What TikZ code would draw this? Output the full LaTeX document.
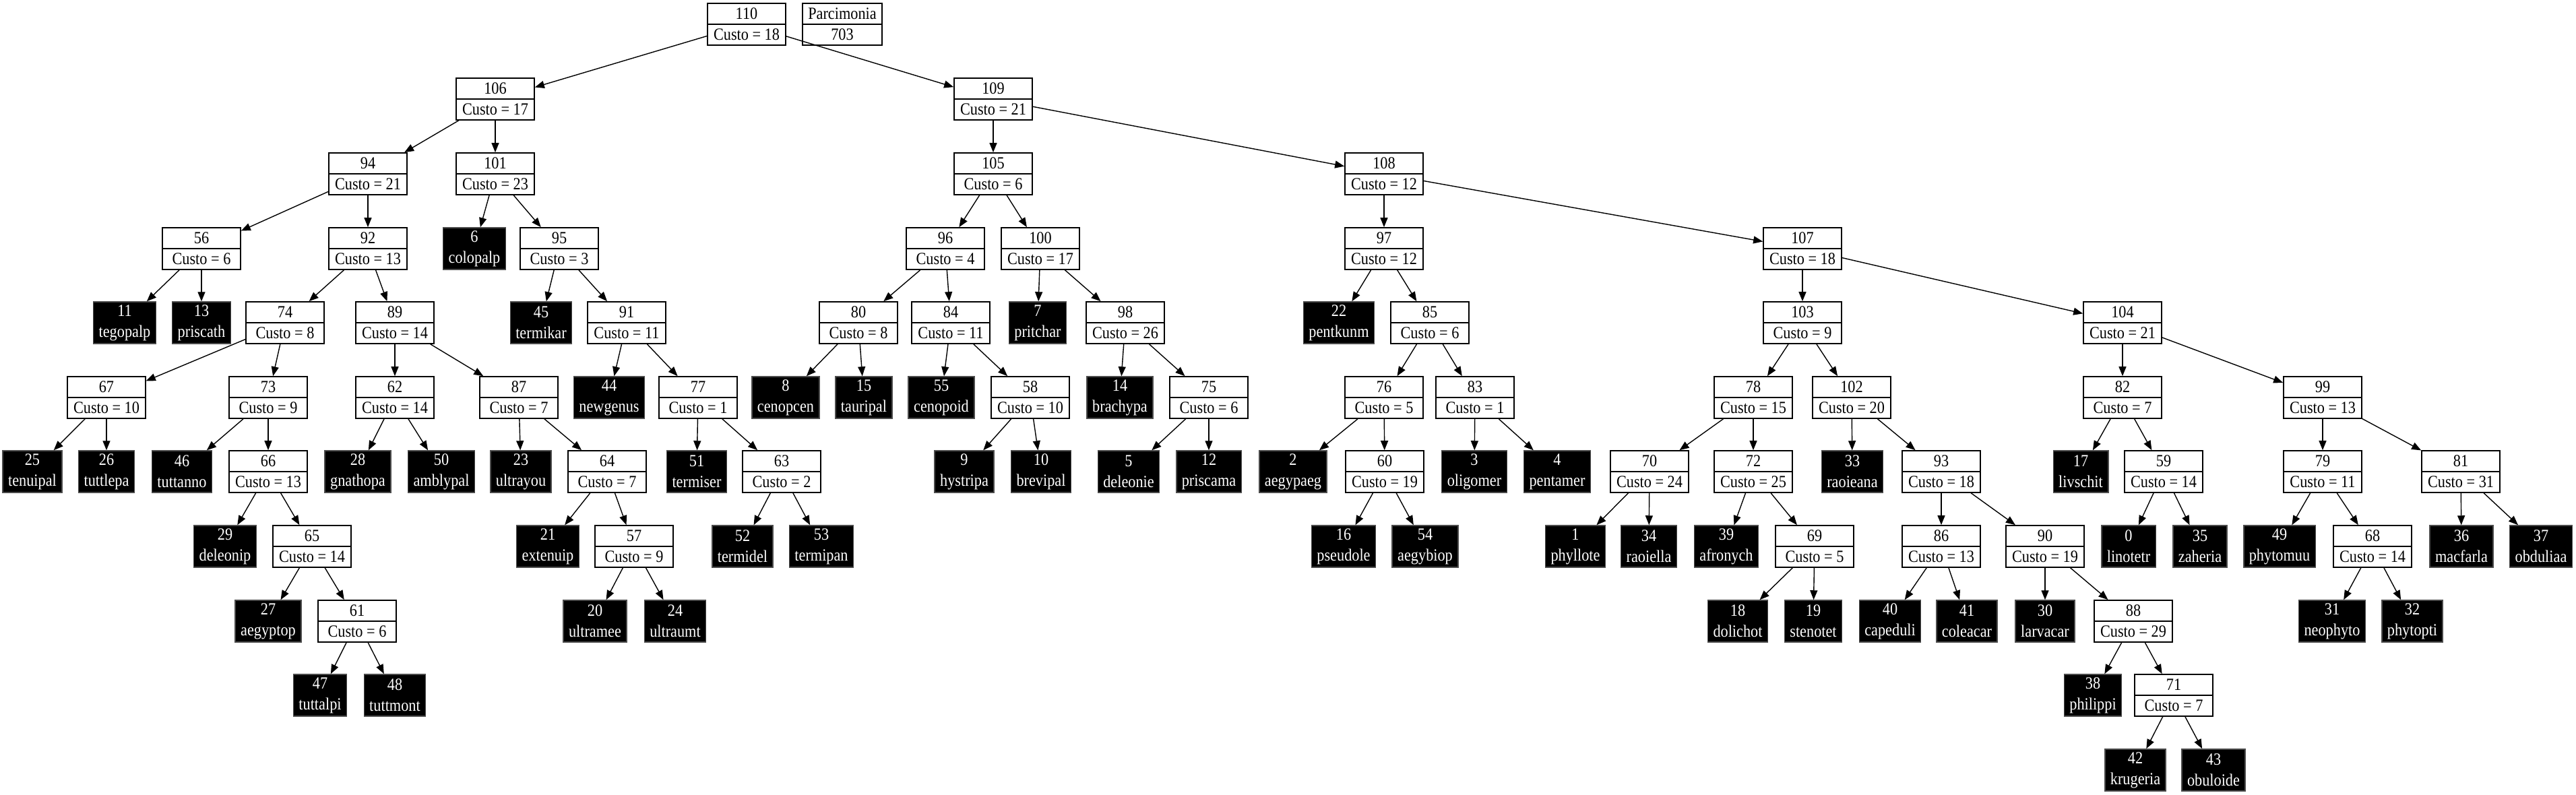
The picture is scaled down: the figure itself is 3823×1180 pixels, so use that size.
\documentclass[tikz,border=0pt]{standalone}
\usepackage{fontspec}
\setmainfont[FakeStretch=0.88]{Liberation Serif}
\usepackage{tikz}
\usetikzlibrary{arrows.meta, positioning}

\begin{document}
\begin{tikzpicture}[
  x=0.01cm, y=-0.01cm,
  cost/.style={draw, rectangle, fill=white, line width=0.45pt,
               minimum width=1.16cm, minimum height=0.62cm,
               inner xsep=0.08cm, inner ysep=0pt, align=center,
               font=\fontsize{7.2}{8.8}\selectfont,
               path picture={\draw[line width=0.45pt] (path picture bounding box.west)
                 -- (path picture bounding box.east);}},
  leaf/.style={draw=black!70, fill=black, text=white, rectangle,
               minimum height=0.62cm, inner xsep=0.08cm, inner ysep=0pt,
               align=center, font=\fontsize{7.2}{8.8}\selectfont},
  arrow/.style={-{Triangle[length=0.14cm, width=0.11cm]}, line width=0.4pt},
]
\useasboundingbox (0,0) rectangle (3823,1180);

%% Root + score
\node[cost] (n110) at (1108,36) {110\\Custo = 18};
\node[cost] (parc) at (1250,36) {Parcimonia\\703};

%% Level 1
\node[cost] (n106) at (735,147)  {106\\Custo = 17};
\node[cost] (n109) at (1474,147) {109\\Custo = 21};

%% Level 2
\node[cost] (n94)  at (546,258)  {94\\Custo = 21};
\node[cost] (n101) at (735,258)  {101\\Custo = 23};
\node[cost] (n105) at (1474,258) {105\\Custo = 6};
\node[cost] (n108) at (2054,258) {108\\Custo = 12};

%% Level 3
\node[cost] (n56)  at (299,369)  {56\\Custo = 6};
\node[cost] (n92)  at (546,369)  {92\\Custo = 13};
\node[leaf] (n6)   at (704,369)  {6\\colopalp};
\node[cost] (n95)  at (830,369)  {95\\Custo = 3};
\node[cost] (n96)  at (1403,369) {96\\Custo = 4};
\node[cost] (n100) at (1544,369) {100\\Custo = 17};
\node[cost] (n97)  at (2054,369) {97\\Custo = 12};
\node[cost] (n107) at (2675,369) {107\\Custo = 18};

%% Level 4
\node[leaf] (n11)  at (185,479)  {11\\tegopalp};
\node[leaf] (n13)  at (299,479)  {13\\priscath};
\node[cost] (n74)  at (423,479)  {74\\Custo = 8};
\node[cost] (n89)  at (586,479)  {89\\Custo = 14};
\node[leaf] (n45)  at (803,479)  {45\\termikar};
\node[cost] (n91)  at (930,479)  {91\\Custo = 11};
\node[cost] (n80)  at (1274,479) {80\\Custo = 8};
\node[cost] (n84)  at (1411,479) {84\\Custo = 11};
\node[leaf] (n7)   at (1540,479) {7\\pritchar};
\node[cost] (n98)  at (1670,479) {98\\Custo = 26};
\node[leaf] (n22)  at (1987,479) {22\\pentkunm};
\node[cost] (n85)  at (2122,479) {85\\Custo = 6};
\node[cost] (n103) at (2675,479) {103\\Custo = 9};
\node[cost] (n104) at (3150,479) {104\\Custo = 21};

%% Level 5
\node[cost] (n67)  at (158,590)  {67\\Custo = 10};
\node[cost] (n73)  at (398,590)  {73\\Custo = 9};
\node[cost] (n62)  at (586,590)  {62\\Custo = 14};
\node[cost] (n87)  at (770,590)  {87\\Custo = 7};
\node[leaf] (n44)  at (904,590)  {44\\newgenus};
\node[cost] (n77)  at (1036,590) {77\\Custo = 1};
\node[leaf] (n8)   at (1166,590) {8\\cenopcen};
\node[leaf] (n15)  at (1282,590) {15\\tauripal};
\node[leaf] (n55)  at (1397,590) {55\\cenopoid};
\node[cost] (n58)  at (1529,590) {58\\Custo = 10};
\node[leaf] (n14)  at (1662,590) {14\\brachypa};
\node[cost] (n75)  at (1794,590) {75\\Custo = 6};
\node[cost] (n76)  at (2054,590) {76\\Custo = 5};
\node[cost] (n83)  at (2189,590) {83\\Custo = 1};
\node[cost] (n78)  at (2602,590) {78\\Custo = 15};
\node[cost] (n102) at (2748,590) {102\\Custo = 20};
\node[cost] (n82)  at (3150,590) {82\\Custo = 7};
\node[cost] (n99)  at (3447,590) {99\\Custo = 13};

%% Level 6
\node[leaf] (n25)  at (48,700)   {25\\tenuipal};
\node[leaf] (n26)  at (158,700)  {26\\tuttlepa};
\node[leaf] (n46)  at (270,700)  {46\\tuttanno};
\node[cost] (n66)  at (398,700)  {66\\Custo = 13};
\node[leaf] (n28)  at (531,700)  {28\\gnathopa};
\node[leaf] (n50)  at (655,700)  {50\\amblypal};
\node[leaf] (n23)  at (773,700)  {23\\ultrayou};
\node[cost] (n64)  at (901,700)  {64\\Custo = 7};
\node[leaf] (n51)  at (1034,700) {51\\termiser};
\node[cost] (n63)  at (1160,700) {63\\Custo = 2};
\node[leaf] (n9)   at (1431,700) {9\\hystripa};
\node[leaf] (n10)  at (1545,700) {10\\brevipal};
\node[leaf] (n5)   at (1675,700) {5\\deleonie};
\node[leaf] (n12)  at (1794,700) {12\\priscama};
\node[leaf] (n2)   at (1919,700) {2\\aegypaeg};
\node[cost] (n60)  at (2055,700) {60\\Custo = 19};
\node[leaf] (n3)   at (2188,700) {3\\oligomer};
\node[leaf] (n4)   at (2311,700) {4\\pentamer};
\node[cost] (n70)  at (2448,700) {70\\Custo = 24};
\node[cost] (n72)  at (2602,700) {72\\Custo = 25};
\node[leaf] (n33)  at (2749,700) {33\\raoieana};
\node[cost] (n93)  at (2881,700) {93\\Custo = 18};
\node[leaf] (n17)  at (3088,700) {17\\livschit};
\node[cost] (n59)  at (3211,700) {59\\Custo = 14};
\node[cost] (n79)  at (3447,700) {79\\Custo = 11};
\node[cost] (n81)  at (3652,700) {81\\Custo = 31};

%% Level 7
\node[leaf] (n29)  at (334,811)  {29\\deleonip};
\node[cost] (n65)  at (463,811)  {65\\Custo = 14};
\node[leaf] (n21)  at (813,811)  {21\\extenuip};
\node[cost] (n57)  at (941,811)  {57\\Custo = 9};
\node[leaf] (n52)  at (1102,811) {52\\termidel};
\node[leaf] (n53)  at (1219,811) {53\\termipan};
\node[leaf] (n16)  at (1994,811) {16\\pseudole};
\node[leaf] (n54)  at (2115,811) {54\\aegybiop};
\node[leaf] (n1)   at (2338,811) {1\\phyllote};
\node[leaf] (n34)  at (2447,811) {34\\raoiella};
\node[leaf] (n39)  at (2562,811) {39\\afronych};
\node[cost] (n69)  at (2693,811) {69\\Custo = 5};
\node[cost] (n86)  at (2881,811) {86\\Custo = 13};
\node[cost] (n90)  at (3035,811) {90\\Custo = 19};
\node[leaf] (n0)   at (3159,811) {0\\linotetr};
\node[leaf] (n35)  at (3265,811) {35\\zaheria};
\node[leaf] (n49)  at (3383,811) {49\\phytomuu};
\node[cost] (n68)  at (3521,811) {68\\Custo = 14};
\node[leaf] (n36)  at (3653,811) {36\\macfarla};
\node[leaf] (n37)  at (3771,811) {37\\obduliaa};

%% Level 8
\node[leaf] (n27)  at (398,922)  {27\\aegyptop};
\node[cost] (n61)  at (530,922)  {61\\Custo = 6};
\node[leaf] (n20)  at (883,922)  {20\\ultramee};
\node[leaf] (n24)  at (1002,922) {24\\ultraumt};
\node[leaf] (n18)  at (2579,922) {18\\dolichot};
\node[leaf] (n19)  at (2691,922) {19\\stenotet};
\node[leaf] (n40)  at (2805,922) {40\\capeduli};
\node[leaf] (n41)  at (2919,922) {41\\coleacar};
\node[leaf] (n30)  at (3035,922) {30\\larvacar};
\node[cost] (n88)  at (3166,922) {88\\Custo = 29};
\node[leaf] (n31)  at (3461,922) {31\\neophyto};
\node[leaf] (n32)  at (3580,922) {32\\phytopti};

%% Level 9
\node[leaf] (n47)  at (475,1032)  {47\\tuttalpi};
\node[leaf] (n48)  at (586,1032)  {48\\tuttmont};
\node[leaf] (n38)  at (3106,1032) {38\\philippi};
\node[cost] (n71)  at (3226,1032) {71\\Custo = 7};

%% Level 10
\node[leaf] (n42)  at (3169,1143) {42\\krugeria};
\node[leaf] (n43)  at (3285,1143) {43\\obuloide};

%% Edges, parent -> children
\draw[arrow] (n110) edge (n106) edge (n109);
\draw[arrow] (n106) edge (n94) edge (n101);
\draw[arrow] (n109) edge (n105) edge (n108);
\draw[arrow] (n94) edge (n56) edge (n92);
\draw[arrow] (n101) edge (n6) edge (n95);
\draw[arrow] (n105) edge (n96) edge (n100);
\draw[arrow] (n108) edge (n97) edge (n107);
\draw[arrow] (n56) edge (n11) edge (n13);
\draw[arrow] (n92) edge (n74) edge (n89);
\draw[arrow] (n95) edge (n45) edge (n91);
\draw[arrow] (n96) edge (n80) edge (n84);
\draw[arrow] (n100) edge (n7) edge (n98);
\draw[arrow] (n97) edge (n22) edge (n85);
\draw[arrow] (n107) edge (n103) edge (n104);
\draw[arrow] (n74) edge (n67) edge (n73);
\draw[arrow] (n89) edge (n62) edge (n87);
\draw[arrow] (n91) edge (n44) edge (n77);
\draw[arrow] (n80) edge (n8) edge (n15);
\draw[arrow] (n84) edge (n55) edge (n58);
\draw[arrow] (n98) edge (n14) edge (n75);
\draw[arrow] (n85) edge (n76) edge (n83);
\draw[arrow] (n103) edge (n78) edge (n102);
\draw[arrow] (n104) edge (n82) edge (n99);
\draw[arrow] (n67) edge (n25) edge (n26);
\draw[arrow] (n73) edge (n46) edge (n66);
\draw[arrow] (n62) edge (n28) edge (n50);
\draw[arrow] (n87) edge (n23) edge (n64);
\draw[arrow] (n77) edge (n51) edge (n63);
\draw[arrow] (n58) edge (n9) edge (n10);
\draw[arrow] (n75) edge (n5) edge (n12);
\draw[arrow] (n76) edge (n2) edge (n60);
\draw[arrow] (n83) edge (n3) edge (n4);
\draw[arrow] (n78) edge (n70) edge (n72);
\draw[arrow] (n102) edge (n33) edge (n93);
\draw[arrow] (n82) edge (n17) edge (n59);
\draw[arrow] (n99) edge (n79) edge (n81);
\draw[arrow] (n66) edge (n29) edge (n65);
\draw[arrow] (n64) edge (n21) edge (n57);
\draw[arrow] (n63) edge (n52) edge (n53);
\draw[arrow] (n60) edge (n16) edge (n54);
\draw[arrow] (n70) edge (n1) edge (n34);
\draw[arrow] (n72) edge (n39) edge (n69);
\draw[arrow] (n93) edge (n86) edge (n90);
\draw[arrow] (n59) edge (n0) edge (n35);
\draw[arrow] (n79) edge (n49) edge (n68);
\draw[arrow] (n81) edge (n36) edge (n37);
\draw[arrow] (n65) edge (n27) edge (n61);
\draw[arrow] (n57) edge (n20) edge (n24);
\draw[arrow] (n69) edge (n18) edge (n19);
\draw[arrow] (n86) edge (n40) edge (n41);
\draw[arrow] (n90) edge (n30) edge (n88);
\draw[arrow] (n68) edge (n31) edge (n32);
\draw[arrow] (n61) edge (n47) edge (n48);
\draw[arrow] (n88) edge (n38) edge (n71);
\draw[arrow] (n71) edge (n42) edge (n43);

\end{tikzpicture}
\end{document}
